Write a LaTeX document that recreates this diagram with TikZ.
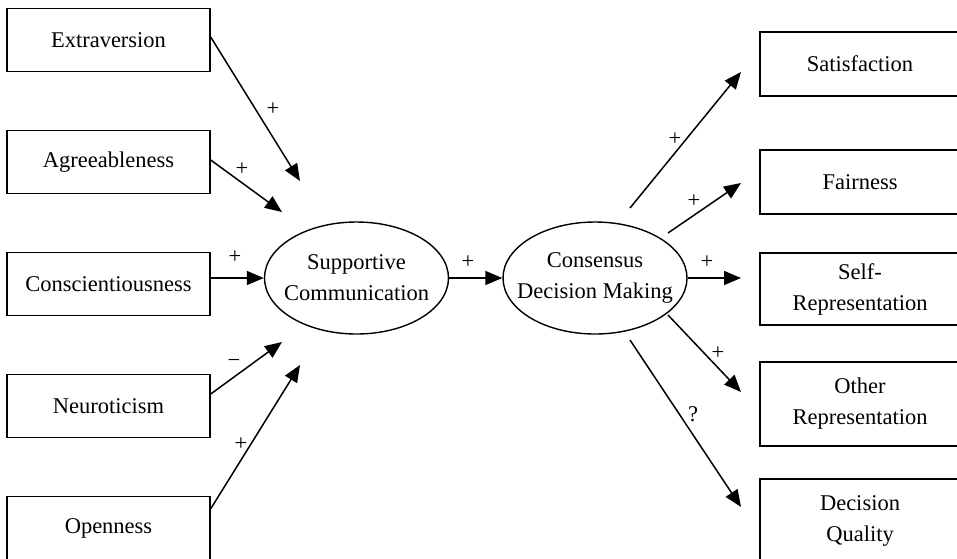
\documentclass[tikz,border=0pt]{standalone}
\usepackage{fontspec}
\setmainfont{Liberation Serif}
\usetikzlibrary{arrows.meta,shapes.geometric}
\begin{document}
\begin{tikzpicture}[x=1pt, y=-1pt,
        font=\fontsize{22.5}{31}\selectfont,
        leftbox/.style={draw, line width=1.4pt, minimum width=203pt, minimum height=63pt, inner sep=0pt, align=center},
        rightbox/.style={draw, line width=1.4pt, minimum width=200pt, inner sep=0pt, align=center},
        construct/.style={draw, ellipse, line width=1.4pt, minimum width=184pt, minimum height=112pt, inner xsep=-18pt, inner ysep=0pt, align=center},
        effect/.style={line width=1.5pt, -{Triangle[length=17pt, width=14pt]}},
        sign/.style={inner sep=0pt}]
    \clip (0, 0) rectangle (957, 558);

    % traits
    \foreach \name/\txt [count=\i] in {ext/Extraversion, agr/Agreeableness, con/Conscientiousness, neu/Neuroticism, ope/Openness}
        \node[leftbox] (\name) at (108.5, {40 + 122*(\i - 1)}) {\txt};

    % mediators
    \node[construct] (sc)  at (356.5, 278) {Supportive\\Communication};
    \node[construct] (cdm) at (595, 278)   {Consensus\\Decision Making};

    % outcomes
    \node[rightbox, minimum height=64pt] (sat) at (860, 64)  {Satisfaction};
    \node[rightbox, minimum height=64pt] (fai) at (860, 182) {Fairness};
    \node[rightbox, minimum height=72pt] (srp) at (860, 289) {Self-\\Representation};
    \node[rightbox, minimum height=84pt] (orp) at (860, 404) {Other\\Representation};
    \node[rightbox, minimum height=84pt] (dqu) at (860, 521) {Decision\\Quality};

    % free ends
    \coordinate (extT) at (300, 181); \coordinate (agrT) at (282, 212);
    \coordinate (neuT) at (282, 342); \coordinate (opeT) at (300, 365);
    \coordinate (satS) at (630, 208); \coordinate (satT) at (741, 72);
    \coordinate (faiS) at (668, 233); \coordinate (faiT) at (741, 183);
    \coordinate (srpT) at (741, 278);
    \coordinate (orpS) at (668, 315); \coordinate (orpT) at (741, 392);
    \coordinate (dquS) at (630, 340); \coordinate (dquT) at (741, 507);

    \draw[effect] ([yshift=3pt]ext.east) -- (extT);      % ext -- sc
    \draw[effect] ([yshift=2pt]agr.east) -- (agrT);      % agr -- sc
    \draw[effect] (con.east |- sc.west) -- (sc.west);    % con -- sc
    \draw[effect] ([yshift=12pt]neu.east) -- (neuT);     % neu -- sc
    \draw[effect] ([yshift=-13pt]ope.north east) -- (opeT); % ope -- sc
    \draw[effect] (sc.east) -- (cdm.west);               % sc -- cdm
    \draw[effect] (satS) -- (satT);                      % cdm -- sat
    \draw[effect] (faiS) -- (faiT);                      % cdm -- fai
    \draw[effect] (cdm.east) -- (srpT);                  % cdm -- srp
    \draw[effect] (orpS) -- (orpT);                      % cdm -- orp
    \draw[effect] (dquS) -- (dquT);                      % cdm -- dqu

    \node[sign] (pext) at (273, 109) {+}; \node[sign] (pagr) at (242, 169) {+};
    \node[sign] (pcon) at (235, 257) {+}; \node[sign] (pneu) at (234, 363) {−};
    \node[sign] (pope) at (241, 444) {+}; \node[sign] (psc)  at (468, 262) {+};
    \node[sign] (psat) at (675, 139) {+}; \node[sign] (pfai) at (694, 201) {+};
    \node[sign] (psrp) at (707, 262) {+}; \node[sign] (porp) at (718, 353) {+};
    \node[sign] (pdqu) at (693, 414) {?};
\end{tikzpicture}
\end{document}
